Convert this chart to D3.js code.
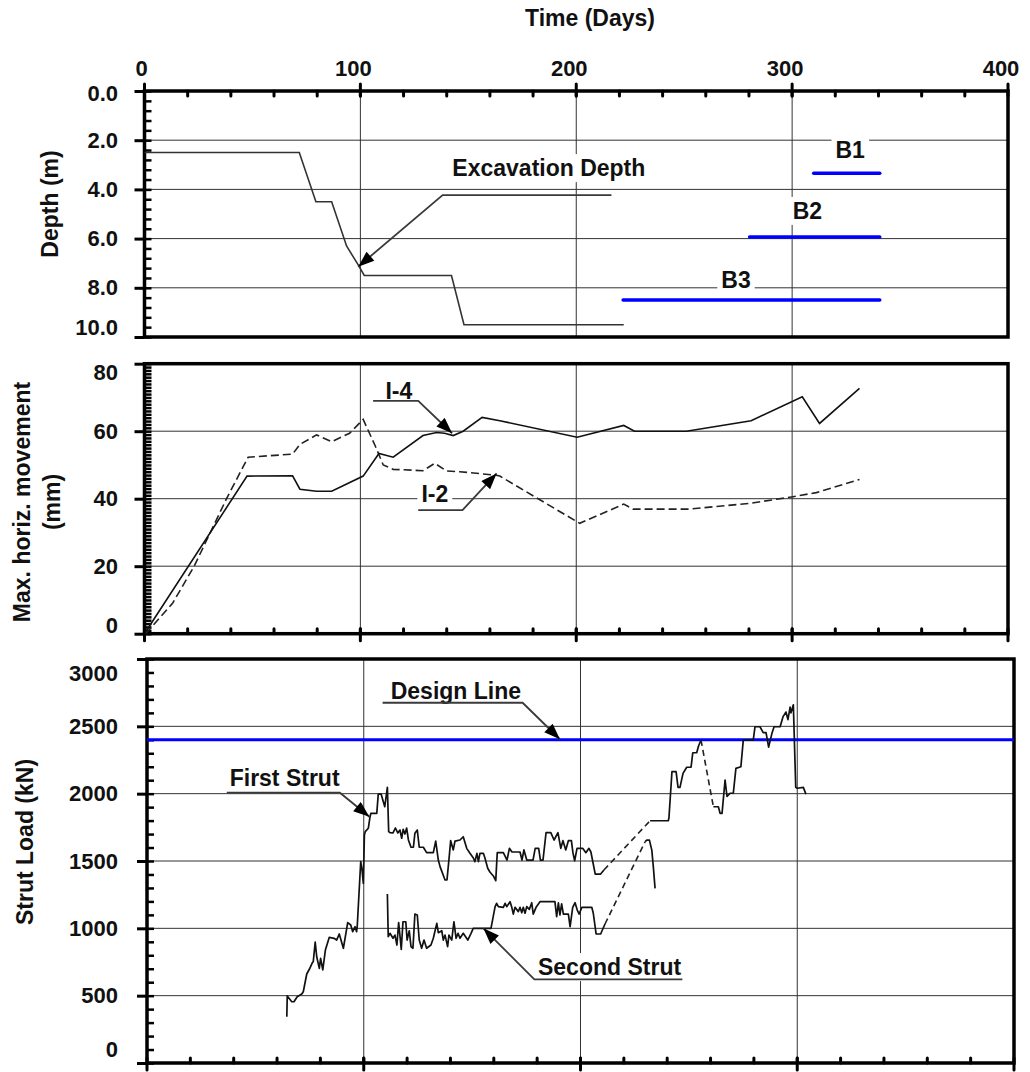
<!DOCTYPE html>
<html>
<head>
<meta charset="utf-8">
<script src="https://cdn.jsdelivr.net/npm/d3@7"></script>
<style>
  body { margin: 0; background: #fff; }
  svg text { font-family: "Liberation Sans", Arial, sans-serif; font-weight: bold; fill: #111; }
</style>
</head>
<body>
<svg width="1030" height="1072"></svg>
<script>
// ---- data ----
// top panel: excavation depth (day, m)
var excavationDepth = [[0,2.5],[71.7,2.5],[79.4,4.5],[86.7,4.5],[93.6,6.3],[99.0,7.07],[101.8,7.5],[142.2,7.5],[148,9.5],[222,9.5]];
var braceNames = ["B1", "B2", "B3"];
var braceStart = [310, 280.3, 221.7];
var braceEnd = [340.6, 340.6, 340.6];
var braceDepth = [3.34, 5.93, 8.5];

// middle panel: max horizontal movement (day, mm)
var inclinoI4 = [[0.5,0.5],[47.5,46.7],[68.6,46.8],[72,42.8],[79.7,42.2],[86.7,42.2],[101.3,46.7],[108.6,53.4],[115.2,52.3],[129,58.7],[135.3,59.6],[139,59.4],[143,58.7],[147.6,60],[156.4,64.1],[164.6,63.1],[200.4,58.2],[222,61.7],[227,60],[251,60],[281,63.1],[304.7,70.2],[312.7,62.3],[331.2,72.7]];
var inclinoI2 = [[0.5,0],[13,9],[23,20],[38,40],[48,52.3],[68.6,53.2],[72,56.1],[79.7,58.9],[86.7,56.9],[95,59.4],[101.3,63.5],[106.7,55.9],[110.6,50],[115.2,48.7],[129,48.3],[134.5,50.5],[139.9,48.2],[146,48],[162.3,47],[164.6,46.7],[201.6,32.7],[222,38.4],[226.3,36.9],[251.8,36.9],[280.3,38.6],[300.4,40.6],[311.2,41.8],[331.2,45.7]];

// bottom panel: strut loads (day, kN); consecutive segments are joined by dashed lines
var firstStrut = [
  [[64.5,344],[64.7,498],[66.8,455],[67.8,455],[69.3,492],[71.4,512],[72.1,529],[73.7,661],[74.9,696],[76.3,745],[76.7,752],[77.6,898],[78.3,789],[79.5,703],[80.1,777],[81.1,691],[82.3,839],[84.1,933],[86.3,926],[87.5,913],[88.7,958],[90.6,852],[92.6,1042],[94.0,1025],[94.9,975],[96.0,1012],[96.7,975],[97.0,1017],[98.6,1495],[99.2,1438],[99.8,1334],[100.3,1693],[100.7,1718],[102.1,1743],[102.9,1829],[103.3,1854],[106.0,1854],[106.7,1997],[108.0,1997],[109.7,1903],[110.9,2047],[111.5,1718],[112.1,1710],[113.5,1708],[114.6,1745],[115.7,1708],[116.7,1730],[117.5,1669],[118.2,1735],[119.0,1700],[119.8,1745],[120.6,1656],[121.8,1602],[122.9,1602],[123.6,1706],[124.7,1730],[125.6,1602],[127.5,1602],[129.0,1562],[132.1,1562],[133.2,1648],[134.4,1507],[135.2,1458],[137.5,1359],[138.4,1359],[139.5,1544],[140.1,1651],[141.3,1582],[142.1,1648],[144.4,1656],[145.9,1680],[147.5,1594],[149.0,1557],[150.5,1524],[151.3,1495],[152.2,1557],[152.9,1495],[153.6,1557],[155.2,1557],[155.9,1522],[157.2,1446],[158.2,1418],[159.8,1389],[160.9,1354],[161.6,1562],[164.4,1562],[166.1,1507],[167.2,1594],[168.4,1567],[172.1,1567],[173.0,1507],[173.9,1582],[175.2,1507],[178.1,1507],[179.1,1594],[180.7,1594],[181.5,1507],[182.7,1507],[184.1,1710],[186.3,1710],[187.8,1656],[189.6,1710],[190.9,1594],[191.9,1651],[193.2,1582],[194.4,1651],[195.8,1651],[196.5,1562],[197.3,1502],[198.4,1594],[201.0,1594],[202.5,1562],[203.9,1594],[204.8,1567],[206.8,1403],[209.3,1403],[210.8,1433]],
  [[232.1,1799],[240.5,1799],[240.8,1819],[242.2,2163],[244.1,2163],[245.0,2047],[245.9,2047],[247.3,2151],[249.0,2196],[251.0,2196],[251.8,2304],[253.6,2304],[254.5,2356],[255.6,2398]],
  [[261.3,1903],[263.6,1903],[264.4,1854],[265.3,1854],[266.7,2101],[267.6,1979],[269.0,2003],[270.5,2003],[271.7,2188],[274.0,2200],[275.1,2398],[279.7,2398],[280.5,2497],[282.8,2497],[284.3,2453],[285.6,2453],[286.8,2346],[288.4,2453],[289.3,2497],[292.1,2497],[293.4,2570],[294.8,2606],[295.7,2550],[296.7,2643],[297.1,2600],[298.2,2660],[299.3,2047],[300.0,2040],[302.8,2047],[304.0,1997]]
];
var secondStrut = [
  [[110.9,1255],[111.3,938],[112.1,963],[113.5,926],[114.4,950],[115.3,876],[116.1,1042],[116.9,913],[117.3,844],[118.1,1049],[119.4,1049],[120.0,913],[121.0,982],[121.8,864],[122.7,852],[123.6,1106],[124.7,1099],[125.6,913],[126.7,852],[127.8,913],[129.0,852],[131.0,876],[132.1,926],[133.7,1037],[134.4,968],[136.0,982],[136.7,913],[137.5,950],[138.7,864],[139.3,950],[140.6,913],[141.6,1049],[142.6,926],[143.5,963],[144.4,926],[145.9,963],[148.0,913],[149.5,963],[150.5,1000],[158.7,1000],[160.6,1161],[161.3,1186],[162.1,1161],[164.4,1156],[165.2,1186],[166.0,1161],[167.5,1198],[168.3,1156],[169.0,1106],[169.8,1156],[171.3,1124],[172.1,1156],[172.9,1116],[173.6,1156],[174.4,1112],[175.2,1161],[176.4,1141],[177.5,1190],[178.2,1106],[179.5,1156],[181.3,1198],[186.7,1198],[188.2,1198],[189.0,1086],[189.8,1190],[190.5,1099],[191.3,1181],[192.1,1106],[194.4,1106],[195.2,1012],[196.4,1156],[197.5,1190],[198.5,1136],[199.4,1106],[200.6,1156],[205.2,1156],[205.9,1112],[207.2,958],[209.3,958],[211.3,1032]],
  [[229.8,1643],[230.6,1655],[231.8,1655],[232.9,1581],[233.6,1457],[234.4,1297]]
];
var designLoad = 2400;

// tick values
var timeTicks = [0, 100, 200, 300, 400];
var depthTicks = [0, 2, 4, 6, 8, 10];
var moveTicks = [0, 20, 40, 60, 80];
var loadTicks = [0, 500, 1000, 1500, 2000, 2500, 3000];

// annotation anchors in data units: label [x, y], leader [start, knee, arrow tip]
var annTop = [{text: "Excavation Depth", at: [187.3, 3.46], leader: [[216.3, 4.23], [138.1, 4.23], [99.0, 7.14]]}];
var annMid = [
  {text: "I-4", at: [117.8, 69.5], leader: [[105.9, 69.0], [126.8, 69.0], [142.5, 59.4]]},
  {text: "I-2", at: [134.5, 38.9], leader: [[126.8, 36.6], [147.3, 36.6], [163.1, 47.5]]}
];
var annBot = [
  {text: "Design Line", at: [142.5, 2703], leader: [[108.7, 2675], [173.3, 2675], [190.5, 2404]]},
  {text: "First Strut", at: [63.5, 2057], leader: [[36.8, 2007], [89.0, 2007], [102.6, 1829]]},
  {text: "Second Strut", at: [213.4, 653], leader: [[247.0, 621], [178.7, 621], [155.2, 1000]]}
];

var svg = d3.select("svg");

svg.append("defs").append("marker")
  .attr("id", "arrow")
  .attr("viewBox", "0 0 16 12")
  .attr("markerUnits", "userSpaceOnUse")
  .attr("markerWidth", 17).attr("markerHeight", 12)
  .attr("refX", 16).attr("refY", 6)
  .attr("orient", "auto")
  .append("path").attr("d", "M0,0L16,6L0,12Z").attr("fill", "#000");

// ---- scales ----
var xTop = d3.scaleLinear().domain([0, 400]).range([144.5, 1008]);
var yDepth = d3.scaleLinear().domain([0, 10]).range([91, 337]);
var yMove = d3.scaleLinear().domain([0, 80]).range([633.7, 363.7]);
var xBot = d3.scaleLinear().domain([0, 400]).range([147, 1014]);
var yLoad = d3.scaleLinear().domain([0, 3000]).range([1063, 659]);

function range(a, b, step) { return d3.range(a, b + step / 2, step); }

function panel(x, y, yMajor, yMinor, fmt, endShift, xAxisSide) {
  var g = svg.append("g");
  var x0 = x.range()[0], x1 = x.range()[1];
  var y0 = y.range()[0], y1 = y.range()[1];
  var top = Math.min(y0, y1), bottom = Math.max(y0, y1);

  // grid
  var grid = g.append("g").attr("stroke", "#333").attr("stroke-width", 1);
  yMajor.filter(function(v) { return y(v) > top + 2 && y(v) < bottom - 2; }).forEach(function(v) {
    grid.append("line").attr("x1", x0).attr("x2", x1).attr("y1", y(v)).attr("y2", y(v));
  });
  [100, 200, 300].forEach(function(v) {
    grid.append("line").attr("x1", x(v)).attr("x2", x(v)).attr("y1", top).attr("y2", bottom);
  });

  // left axis: outward majors with labels, inward minors
  var la = g.append("g").attr("transform", "translate(" + x0 + ",0)")
    .call(d3.axisLeft(y).tickValues(yMajor).tickSize(10).tickPadding(x0 - 118 - 10).tickFormat(fmt));
  la.select(".domain").remove();
  la.selectAll("line").attr("stroke", "#000").attr("stroke-width", 3);
  la.selectAll("text").attr("font-size", 22).attr("fill", "#111")
    .attr("y", function(d) { return endShift(d); });
  var lm = g.append("g").attr("transform", "translate(" + x0 + ",0)")
    .call(d3.axisLeft(y).tickValues(yMinor).tickSize(-7).tickFormat(""));
  lm.select(".domain").remove();
  lm.selectAll("line").attr("stroke", "#000").attr("stroke-width", 2.5);

  // time axis ticks
  var ty = xAxisSide === "top" ? top : bottom;
  var dir = xAxisSide === "top" ? -1 : 1;
  var tm = g.append("g").attr("stroke", "#000").attr("stroke-linecap", "round");
  range(20, 380, 20).forEach(function(v) {
    tm.append("line").attr("x1", x(v)).attr("x2", x(v)).attr("y1", ty).attr("y2", ty - dir * 5).attr("stroke-width", 3);
  });
  timeTicks.forEach(function(v) {
    tm.append("line").attr("x1", x(v)).attr("x2", x(v)).attr("y1", ty - dir * 5).attr("y2", ty + dir * 7).attr("stroke-width", 3);
  });

  // frame
  g.append("rect").attr("x", x0).attr("y", top).attr("width", x1 - x0).attr("height", bottom - top)
    .attr("fill", "none").attr("stroke", "#000").attr("stroke-width", 3.5);

  return g;
}

var gTop = panel(xTop, yDepth, depthTicks, range(0, 10, 0.4), d3.format(".1f"),
  function(d) { return d === 0 ? 2 : d === 10 ? -10 : 0; }, "top");
var gMid = panel(xTop, yMove, moveTicks, range(0, 80, 1), d3.format("d"),
  function(d) { return d === 80 ? 9 : d === 0 ? -8 : 0; }, "bottom");
var gBot = panel(xBot, yLoad, loadTicks, range(0, 3000, 100), d3.format("d"),
  function(d) { return d === 3000 ? 14 : d === 0 ? -14 : 0; }, "bottom");

// top time labels
svg.append("g").selectAll("text").data(timeTicks).enter().append("text")
  .attr("x", function(d) { return xTop(d) - (d === 0 ? 3 : 7); })
  .attr("y", 76).attr("text-anchor", "middle").attr("font-size", 22)
  .text(function(d) { return d; });

// axis titles
svg.append("text").attr("x", 590).attr("y", 26).attr("text-anchor", "middle").attr("font-size", 23).text("Time (Days)");
function vTitle(text, cx, cy) {
  svg.append("text").attr("transform", "translate(" + cx + "," + cy + ") rotate(-90)")
    .attr("text-anchor", "middle").attr("dominant-baseline", "central").attr("font-size", 23).text(text);
}
vTitle("Depth (m)", 50, 204);
vTitle("Max. horiz. movement", 22, 502);
vTitle("(mm)", 52, 502);
vTitle("Strut Load (kN)", 25, 842);

// ---- annotations + data ----
function annotate(g, x, y, list, bgLayer) {
  list.forEach(function(a) {
    var t = g.append("text").attr("x", x(a.at[0])).attr("y", y(a.at[1]))
      .attr("text-anchor", "middle").attr("font-size", 23).text(a.text);
    var b = t.node().getBBox();
    bgLayer.append("rect").attr("x", b.x - 4).attr("y", b.y - 1).attr("width", b.width + 8).attr("height", b.height + 2).attr("fill", "#fff");
    if (a.leader) {
      g.append("path")
        .attr("d", d3.line().x(function(d) { return x(d[0]); }).y(function(d) { return y(d[1]); })(a.leader))
        .attr("fill", "none").attr("stroke", "#3a3a3a").attr("stroke-width", 1.8)
        .attr("marker-end", "url(#arrow)");
    }
  });
}

// top panel
var bgTop = gTop.append("g");
var lineTop = d3.line().x(function(d) { return xTop(d[0]); }).y(function(d) { return yDepth(d[1]); });
gTop.append("path").datum(excavationDepth).attr("d", lineTop)
  .attr("fill", "none").attr("stroke", "#333").attr("stroke-width", 1.6);
gTop.append("g").selectAll("line").data(braceNames).enter().append("line")
  .attr("x1", function(d, i) { return xTop(braceStart[i]); })
  .attr("x2", function(d, i) { return xTop(braceEnd[i]); })
  .attr("y1", function(d, i) { return yDepth(braceDepth[i]); })
  .attr("y2", function(d, i) { return yDepth(braceDepth[i]); })
  .attr("stroke", "#0000ff").attr("stroke-width", 3.5).attr("stroke-linecap", "round");
var braceLabelAt = [[326.9, 2.72], [307.1, 5.2], [274, 8.0]];
annotate(gTop, xTop, yDepth, annTop.concat(braceNames.map(function(n, i) { return {text: n, at: braceLabelAt[i]}; })), bgTop);

// middle panel
var bgMid = gMid.append("g");
var lineMid = d3.line().x(function(d) { return xTop(d[0]); }).y(function(d) { return yMove(d[1]); });
gMid.append("path").datum(inclinoI2).attr("d", lineMid)
  .attr("fill", "none").attr("stroke", "#222").attr("stroke-width", 1.6).attr("stroke-dasharray", "8,4");
gMid.append("path").datum(inclinoI4).attr("d", lineMid)
  .attr("fill", "none").attr("stroke", "#111").attr("stroke-width", 1.6);
annotate(gMid, xTop, yMove, annMid, bgMid);

// bottom panel
var bgBot = gBot.append("g");
var lineBot = d3.line().x(function(d) { return xBot(d[0]); }).y(function(d) { return yLoad(d[1]); });
gBot.append("line").attr("x1", xBot(0)).attr("x2", xBot(400))
  .attr("y1", yLoad(designLoad)).attr("y2", yLoad(designLoad))
  .attr("stroke", "#0000ff").attr("stroke-width", 3);
[firstStrut, secondStrut].forEach(function(segs) {
  segs.forEach(function(seg, i) {
    gBot.append("path").datum(seg).attr("d", lineBot)
      .attr("fill", "none").attr("stroke", "#111").attr("stroke-width", 1.7).attr("stroke-linejoin", "round");
    if (i < segs.length - 1) {
      gBot.append("path").datum([seg[seg.length - 1], segs[i + 1][0]]).attr("d", lineBot)
        .attr("fill", "none").attr("stroke", "#222").attr("stroke-width", 1.6).attr("stroke-dasharray", "6,4");
    }
  });
});
annotate(gBot, xBot, yLoad, annBot, bgBot);
</script>
</body>
</html>
